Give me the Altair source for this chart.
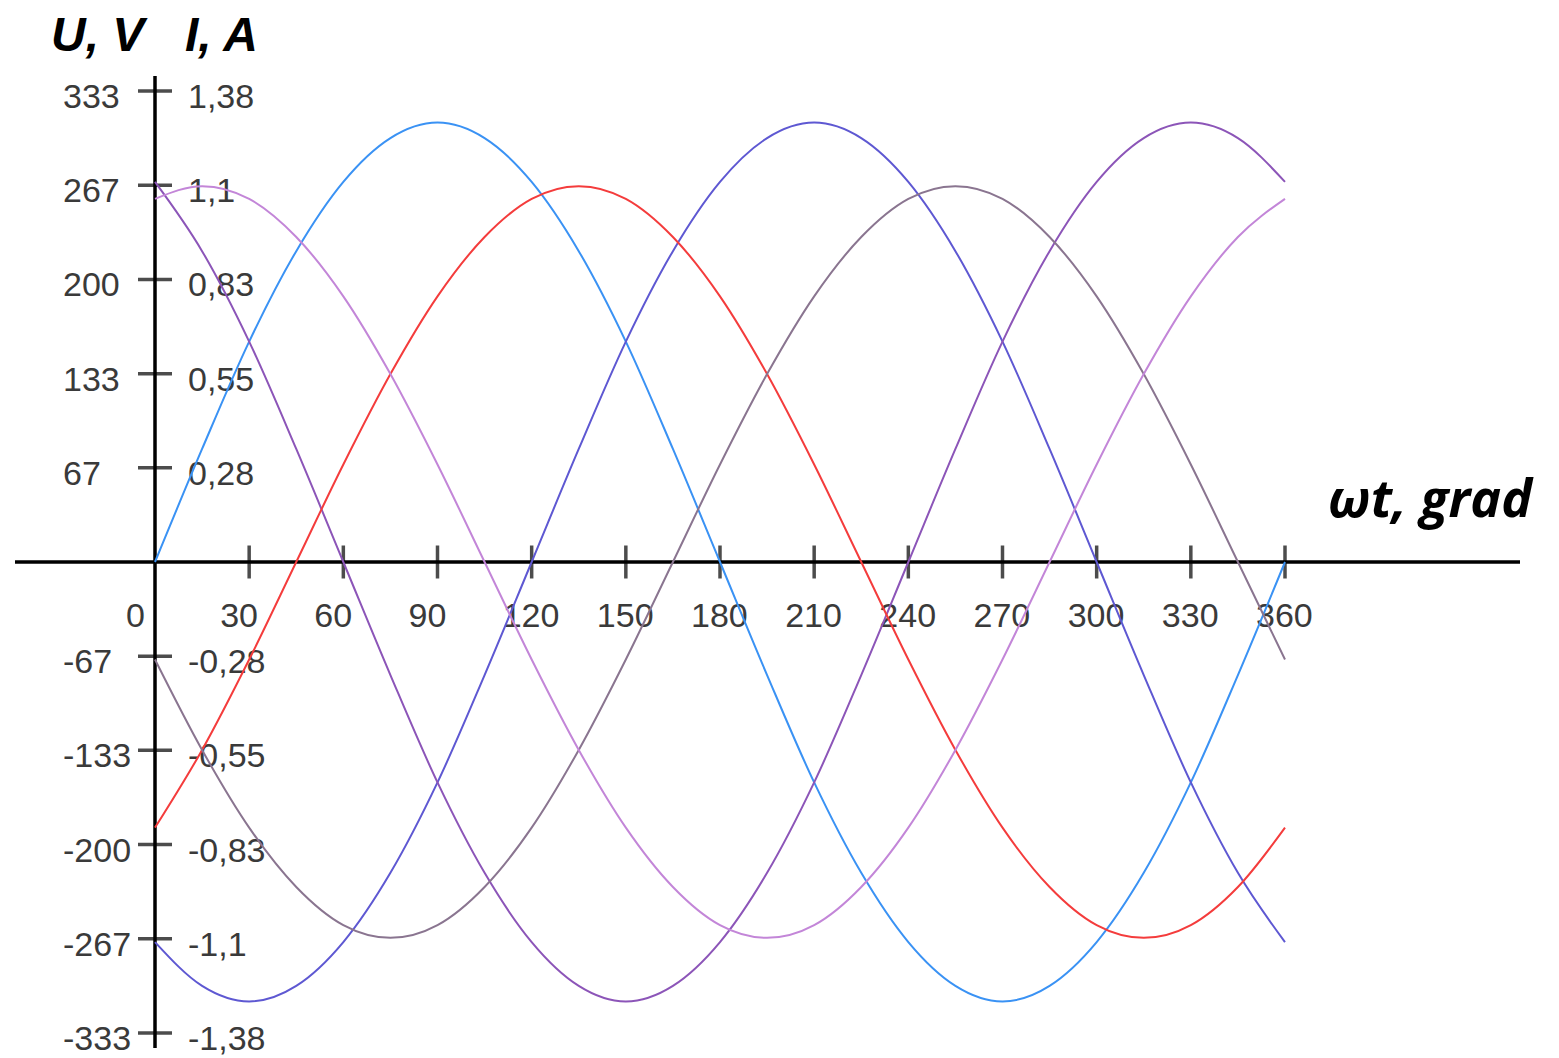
import altair as alt
import pandas as pd

# ---------------- data ----------------
deg = [0, 15, 30, 45, 60, 75, 90, 105, 120, 135, 150, 165, 180,
       195, 210, 225, 240, 255, 270, 285, 300, 315, 330, 345, 360]

ua = [0, 80, 156, 220, 269, 300, 311, 300, 269, 220, 156, 80, 0,
      -80, -156, -220, -269, -300, -311, -300, -269, -220, -156, -80, 0]
ub = [-269, -300, -311, -300, -269, -220, -156, -80, 0, 80, 156, 220, 269,
      300, 311, 300, 269, 220, 156, 80, 0, -80, -156, -220, -269]
uc = [269, 220, 156, 80, 0, -80, -156, -220, -269, -300, -311, -300, -269,
      -220, -156, -80, 0, 80, 156, 220, 269, 300, 311, 300, 269]
ia = [-188, -133, -69, 0, 69, 133, 188, 230, 257, 266, 257, 230, 188,
      133, 69, 0, -69, -133, -188, -230, -257, -266, -257, -230, -188]
ib = [-69, -133, -188, -230, -257, -266, -257, -230, -188, -133, -69, 0, 69,
      133, 188, 230, 257, 266, 257, 230, 188, 133, 69, 0, -69]
ic = [257, 266, 257, 230, 188, 133, 69, 0, -69, -133, -188, -230, -257,
      -266, -257, -230, -188, -133, -69, 0, 69, 133, 188, 230, 257]

series_names = ["Ua", "Ub", "Uc", "Ia", "Ib", "Ic"]
series_values = [ua, ub, uc, ia, ib, ic]
series_colors = ["#3a92f4", "#5e58d2", "#8c55b8", "#f43c3c", "#8a7590", "#c386d8"]

x_ticks = [0, 30, 60, 90, 120, 150, 180, 210, 240, 270, 300, 330, 360]
x_tick_labels = ["0", "30", "60", "90", "120", "150", "180", "210", "240",
                 "270", "300", "330", "360"]

y_ticks = [333.3, 266.7, 200, 133.3, 66.7, -66.7, -133.3, -200, -266.7, -333.3]
u_labels = ["333", "267", "200", "133", "67", "-67", "-133", "-200", "-267", "-333"]
i_labels = ["1,38", "1,1", "0,83", "0,55", "0,28", "-0,28", "-0,55", "-0,83",
            "-1,1", "-1,38"]

# ---------------- layout ----------------
W, H = 1543, 1050
ORX, ORY = 147, 554            # origin in plot pixels
KX = 1130 / 360                # px per degree
KY = (554 - 83) / 333.33       # px per volt

X0 = -ORX / KX
X1 = X0 + W / KX
Y1 = ORY / KY
Y0 = Y1 - H / KY

xs = alt.Scale(domain=[X0, X1], nice=False, zero=False)
ys = alt.Scale(domain=[Y0, Y1], nice=False, zero=False)

LABEL_FONT = "Liberation Sans"
LABEL_COLOR = "#3a3a3a"
LABEL_SIZE = 34

# long-form curve table
rows = []
for name, vals in zip(series_names, series_values):
    for d, v in zip(deg, vals):
        rows.append({"deg": d, "val": v, "series": name})
curves_df = pd.DataFrame(rows)

# axis lines
xaxis_df = pd.DataFrame({"x": [(7 - ORX) / KX], "x2": [(1512 - ORX) / KX], "y": [0]})
yaxis_df = pd.DataFrame({"x": [0], "y": [(ORY - 68) / KY], "y2": [(ORY - 1040) / KY]})

xt_df = pd.DataFrame({"deg": x_ticks, "lab": x_tick_labels, "zero": 0})
yt_df = pd.DataFrame({"val": y_ticks, "u": u_labels, "i": i_labels, "zero": 0})

x_axis = alt.Chart(xaxis_df).mark_rule(color="black", strokeWidth=3.5).encode(
    x=alt.X("x:Q", scale=xs, axis=None), x2="x2:Q",
    y=alt.Y("y:Q", scale=ys, axis=None))
y_axis = alt.Chart(yaxis_df).mark_rule(color="black", strokeWidth=3.5).encode(
    x=alt.X("x:Q", scale=xs, axis=None),
    y=alt.Y("y:Q", scale=ys, axis=None), y2="y2:Q")

x_tickmarks = alt.Chart(xt_df[xt_df["deg"] > 0]).mark_tick(
    color="black", orient="vertical", size=33, thickness=3.5).encode(
    x=alt.X("deg:Q", scale=xs, axis=None),
    y=alt.Y("zero:Q", scale=ys, axis=None))
y_tickmarks = alt.Chart(yt_df).mark_tick(
    color="black", orient="horizontal", size=34, thickness=3.5).encode(
    x=alt.X("zero:Q", scale=xs, axis=None),
    y=alt.Y("val:Q", scale=ys, axis=None))

x_labels = alt.Chart(xt_df).mark_text(
    align="left", baseline="middle", dx=-29, dy=55,
    font=LABEL_FONT, fontSize=LABEL_SIZE, color=LABEL_COLOR).encode(
    x=alt.X("deg:Q", scale=xs, axis=None),
    y=alt.Y("zero:Q", scale=ys, axis=None), text="lab:N")

u_text = alt.Chart(yt_df).mark_text(
    align="left", baseline="middle", dx=-92, dy=7,
    font=LABEL_FONT, fontSize=LABEL_SIZE, color=LABEL_COLOR).encode(
    x=alt.X("zero:Q", scale=xs, axis=None),
    y=alt.Y("val:Q", scale=ys, axis=None), text="u:N")
i_text = alt.Chart(yt_df).mark_text(
    align="left", baseline="middle", dx=33, dy=7,
    font=LABEL_FONT, fontSize=LABEL_SIZE, color=LABEL_COLOR).encode(
    x=alt.X("zero:Q", scale=xs, axis=None),
    y=alt.Y("val:Q", scale=ys, axis=None), text="i:N")

curves = alt.Chart(curves_df).mark_line(strokeWidth=2, interpolate="monotone").encode(
    x=alt.X("deg:Q", scale=xs, axis=None),
    y=alt.Y("val:Q", scale=ys, axis=None),
    color=alt.Color("series:N", scale=alt.Scale(domain=series_names, range=series_colors),
                    legend=None),
    detail="series:N")

t_u = alt.Chart(pd.DataFrame({"t": ["U, V"]})).mark_text(
    align="left", baseline="alphabetic", font="Liberation Sans", fontSize=48,
    fontWeight="bold", fontStyle="italic", color="black").encode(
    x=alt.value(43), y=alt.value(43), text="t:N")
t_i = alt.Chart(pd.DataFrame({"t": ["I, A"]})).mark_text(
    align="left", baseline="alphabetic", font="Liberation Sans", fontSize=48,
    fontWeight="bold", fontStyle="italic", color="black").encode(
    x=alt.value(177), y=alt.value(43), text="t:N")
t_x = alt.Chart(pd.DataFrame({"t": ["ωt, grad"]})).mark_text(
    align="left", baseline="alphabetic", font="Open Sans", fontSize=52,
    fontWeight="bold", fontStyle="italic", color="black").encode(
    x=alt.value(1320), y=alt.value(509), text="t:N")

chart = alt.layer(
    x_axis, y_axis, x_tickmarks, y_tickmarks, x_labels, u_text, i_text,
    curves, t_u, t_i, t_x
).properties(
    width=W, height=H, padding=0,
    autosize=alt.AutoSizeParams(type="none"),
    background="white"
).configure_view(stroke=None)

chart.save("out.html", embed_options={"renderer": "svg", "actions": False})
